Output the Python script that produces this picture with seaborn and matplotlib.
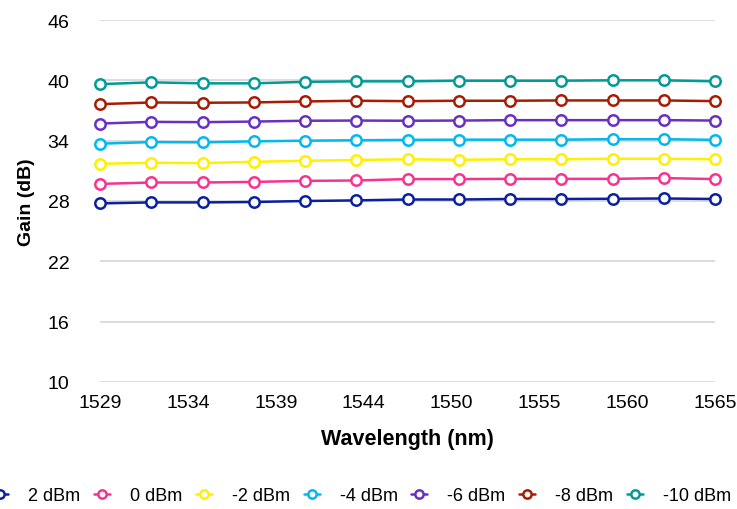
import numpy as np
import pandas as pd
import matplotlib
matplotlib.use("Agg")
import matplotlib.pyplot as plt
import seaborn as sns

wavelength = [1529, 1532, 1535, 1538, 1541, 1544, 1547, 1550, 1553, 1556, 1559, 1562, 1565]
g_2dbm = [27.76, 27.86, 27.86, 27.9, 28.0, 28.06, 28.15, 28.15, 28.2, 28.2, 28.22, 28.25, 28.2]
g_0dbm = [29.7, 29.84, 29.84, 29.9, 30.0, 30.04, 30.18, 30.18, 30.2, 30.2, 30.2, 30.28, 30.18]
g_m2dbm = [31.7, 31.8, 31.77, 31.9, 32.0, 32.08, 32.15, 32.1, 32.15, 32.15, 32.2, 32.2, 32.15]
g_m4dbm = [33.7, 33.86, 33.83, 33.93, 34.0, 34.04, 34.08, 34.1, 34.1, 34.1, 34.15, 34.15, 34.08]
g_m6dbm = [35.7, 35.87, 35.84, 35.9, 35.98, 36.0, 35.98, 36.0, 36.04, 36.04, 36.04, 36.04, 36.0]
g_m8dbm = [37.63, 37.8, 37.77, 37.8, 37.9, 37.97, 37.93, 37.97, 37.97, 38.0, 38.0, 38.0, 37.93]
g_m10dbm = [39.62, 39.8, 39.7, 39.7, 39.85, 39.9, 39.9, 39.96, 39.96, 39.96, 40.0, 40.0, 39.9]

series_names = ["2 dBm", "0 dBm", "-2 dBm", "-4 dBm", "-6 dBm", "-8 dBm", "-10 dBm"]
series_vals = [g_2dbm, g_0dbm, g_m2dbm, g_m4dbm, g_m6dbm, g_m8dbm, g_m10dbm]
colors = ["#0A20A0", "#F7338F", "#FFF000", "#00B9EE", "#6930C3", "#A81B04", "#009A98"]

y_ticks = [10, 16, 22, 28, 34, 40, 46]

sns.set_style("white")
plt.rcParams["font.family"] = ["Liberation Sans", "DejaVu Sans"]
plt.rcParams["text.color"] = "black"
plt.rcParams["axes.labelcolor"] = "black"

fig = plt.figure(figsize=(7.37, 5.10), dpi=100)
ax = fig.add_axes([100 / 737, 1 - 383 / 510, 615 / 737, 362 / 510])

rows = []
for name, vals in zip(series_names, series_vals):
    for w, v in zip(wavelength, vals):
        rows.append({"Wavelength": w, "Gain": v, "Series": name})
df = pd.DataFrame(rows)

for name, col in zip(series_names, colors):
    sub = df[df["Series"] == name]
    sns.lineplot(data=sub, x="Wavelength", y="Gain", ax=ax, color=col, lw=1.8,
                 marker="o", markersize=7.5, markerfacecolor="white",
                 markeredgecolor=col, markeredgewidth=1.8, label=name,
                 zorder=3, clip_on=False)

ax.set_xlim(1529, 1565)
ax.set_ylim(10, 46)
ax.set_yticks(y_ticks)
xt = np.linspace(1529, 1565, 8)
ax.set_xticks(xt)
ax.set_xticklabels([str(int(round(v))) for v in xt])
ax.grid(axis="y", color="#D9D9D9", lw=1.3)
ax.grid(axis="x", visible=False)
for s in ax.spines.values():
    s.set_visible(False)
ax.tick_params(axis="both", length=0, labelsize=14, colors="black")
ax.tick_params(axis="x", pad=9)
ax.tick_params(axis="y", pad=22)
ax.set_xlabel("Wavelength (nm)", fontsize=15.5, fontweight="bold", labelpad=12)
ax.set_ylabel("Gain (dB)", fontsize=14, fontweight="bold", labelpad=9)

handles, labels = ax.get_legend_handles_labels()
ax.legend_.remove()
fig.legend(handles, labels, loc="center", bbox_to_anchor=(0.4905, 1 - 497 / 510),
           ncol=7, frameon=False, fontsize=13, handlelength=0.9,
           columnspacing=0.75, handletextpad=1.1, markerscale=0.8)

fig.savefig("out.png", dpi=100)
